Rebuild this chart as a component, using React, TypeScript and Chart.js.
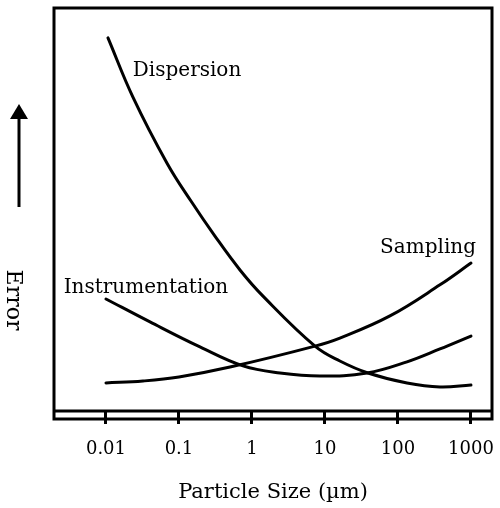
import React, { useEffect, useRef } from "react";
import { Chart, registerables } from "chart.js";

Chart.register(...registerables);

// ---- data (y = relative error, 0..100) ----
const xTickValues = [0.01, 0.1, 1, 10, 100, 1000];
const xTickLabels = ["0.01", "0.1", "1", "10", "100", "1000"];

const dispersionX = [0.01065, 0.0234, 0.0686, 0.146, 0.311, 0.685, 1.416, 7.3, 16.0, 38.8, 133, 376, 1000];
const dispersionY = [92.6, 77.9, 61.5, 52.1, 43.4, 35.0, 28.5, 16.1, 12.4, 9.43, 6.95, 5.96, 6.45];

const instrumentationX = [0.01, 0.0401, 0.194, 0.753, 2.42, 8.55, 37.6, 133, 376, 1000];
const instrumentationY = [27.8, 22.1, 15.9, 11.2, 9.43, 8.68, 9.43, 12.2, 15.4, 18.6];

const samplingX = [0.01, 0.0321, 0.1, 0.5, 7.3, 16.0, 77.6, 376, 1000];
const samplingY = [6.95, 7.44, 8.44, 10.9, 16.1, 18.1, 23.6, 31.3, 36.7];

const curveLabels = ["Dispersion", "Instrumentation", "Sampling"];
const curveLabelX = [0.129, 0.0353, 258];
const curveLabelY = [83.1, 29.3, 39.2];

const xTitle = "Particle Size (\u00b5m)";
const yTitle = "Error";

const X_MIN = Math.pow(10, -2.712);
const X_MAX = Math.pow(10, 3.288);

const SERIF = "'DejaVu Serif', serif";

const toPoints = (xs: number[], ys: number[]) => xs.map((x, i) => ({ x, y: ys[i] }));

const decorPlugin = {
  id: "decor",
  afterDraw(chart: any) {
    const { ctx, chartArea } = chart;
    const { left, top, right, bottom } = chartArea;
    const xs = chart.scales.x;
    const ys = chart.scales.y;
    ctx.save();
    // frame
    ctx.strokeStyle = "#000";
    ctx.lineWidth = 3;
    ctx.lineJoin = "miter";
    ctx.strokeRect(left, top, right - left, bottom + 8 - top);
    ctx.beginPath();
    ctx.moveTo(left, bottom);
    ctx.lineTo(right, bottom);
    ctx.stroke();

    // curve labels
    ctx.fillStyle = "#000";
    ctx.font = `20px ${SERIF}`;
    ctx.textAlign = "center";
    ctx.textBaseline = "alphabetic";
    curveLabels.forEach((t, i) => {
      ctx.fillText(t, xs.getPixelForValue(curveLabelX[i]), ys.getPixelForValue(curveLabelY[i]));
    });

    // y-axis arrow
    ctx.lineWidth = 3;
    ctx.beginPath();
    ctx.moveTo(19, 207);
    ctx.lineTo(19, 116);
    ctx.stroke();
    ctx.beginPath();
    ctx.moveTo(19, 104);
    ctx.lineTo(10, 119);
    ctx.lineTo(28, 119);
    ctx.closePath();
    ctx.fill();

    // y title, rotated clockwise
    ctx.translate(13, 300);
    ctx.rotate(Math.PI / 2);
    ctx.font = `22px ${SERIF}`;
    ctx.textAlign = "center";
    ctx.textBaseline = "middle";
    ctx.fillText(yTitle, 0, 0);
    ctx.restore();
  },
};

export default function App() {
  const ref = useRef<HTMLCanvasElement | null>(null);

  useEffect(() => {
    if (!ref.current) return;
    const lineStyle = {
      borderColor: "#000",
      backgroundColor: "#000",
      borderWidth: 3,
      pointRadius: 0,
      fill: false,
      tension: 0.4,
      borderCapStyle: "round" as const,
    };
    const chart = new Chart(ref.current, {
      type: "line",
      data: {
        datasets: [
          { label: "Dispersion", data: toPoints(dispersionX, dispersionY), ...lineStyle },
          { label: "Instrumentation", data: toPoints(instrumentationX, instrumentationY), ...lineStyle },
          { label: "Sampling", data: toPoints(samplingX, samplingY), ...lineStyle },
        ],
      },
      options: {
        animation: false,
        responsive: false,
        layout: { padding: { left: 54, top: 8, right: 8, bottom: 0 } },
        plugins: { legend: { display: false }, tooltip: { enabled: false } },
        scales: {
          x: {
            type: "logarithmic",
            min: X_MIN,
            max: X_MAX,
            afterBuildTicks: (s: any) => {
              s.ticks = xTickValues.map((v) => ({ value: v }));
            },
            afterFit: (s: any) => {
              s.height = 97;
              s.paddingLeft = 0;
              s.paddingRight = 0;
            },
            border: { display: false },
            grid: {
              display: true,
              drawOnChartArea: false,
              drawTicks: true,
              tickLength: 13,
              tickWidth: 3,
              tickColor: "#000",
              color: "#000",
              lineWidth: 3,
            },
            ticks: {
              autoSkip: false,
              maxRotation: 0,
              minRotation: 0,
              padding: 15,
              color: "#000",
              font: { family: SERIF, size: 18 },
              callback: (_v: any, i: number) => xTickLabels[i],
            },
            title: {
              display: true,
              text: xTitle,
              color: "#000",
              font: { family: SERIF, size: 21 },
              padding: { top: 0, bottom: 3 },
            },
          },
          y: {
            type: "linear",
            display: false,
            min: 0,
            max: 100,
          },
        },
      },
      plugins: [decorPlugin],
    });
    return () => chart.destroy();
  }, []);

  return (
    <div style={{ position: "fixed", left: 0, top: 0, width: 500, height: 508, background: "#fff" }}>
      <canvas ref={ref} width={500} height={508} style={{ display: "block", width: 500, height: 508 }} />
    </div>
  );
}
